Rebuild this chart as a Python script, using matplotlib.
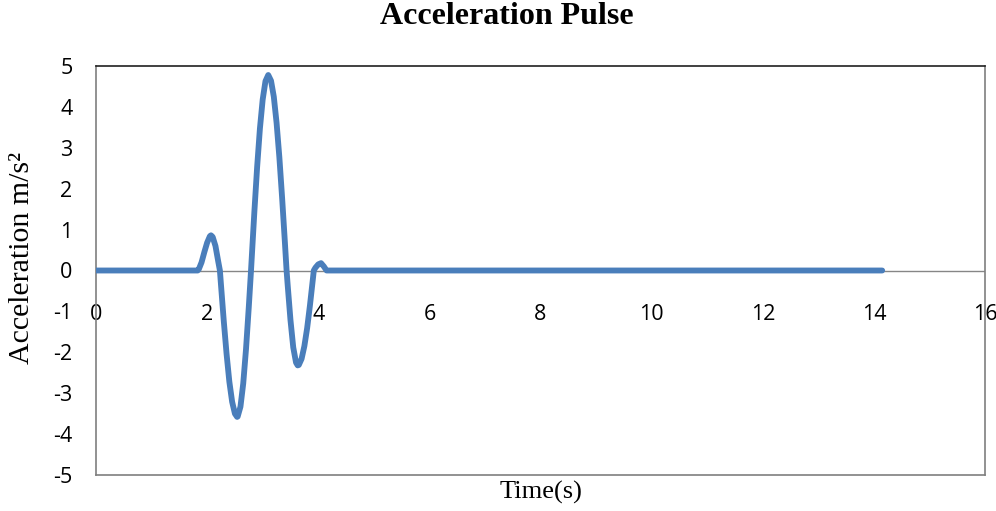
import matplotlib
matplotlib.use("Agg")
import matplotlib.pyplot as plt

# Acceleration record (s, m/s^2)
time_s = [0.00, 1.80, 1.83, 1.85, 1.90, 1.95, 2.00, 2.05, 2.07, 2.10, 2.15, 2.20,
          2.23, 2.25, 2.30, 2.35, 2.40, 2.45, 2.50, 2.54, 2.55, 2.60, 2.65, 2.70,
          2.75, 2.79, 2.80, 2.85, 2.90, 2.95, 3.00, 3.05, 3.10, 3.15, 3.20, 3.25,
          3.30, 3.35, 3.40, 3.43, 3.45, 3.50, 3.55, 3.60, 3.63, 3.65, 3.70, 3.75,
          3.80, 3.85, 3.90, 3.92, 3.95, 4.00, 4.05, 4.10, 4.15, 14.15]
accel = [0.00, 0.00, 0.00, 0.03, 0.20, 0.45, 0.68, 0.84, 0.86, 0.82, 0.60, 0.22,
         0.00, -0.36, -1.24, -2.04, -2.72, -3.21, -3.50, -3.58, -3.57, -3.33, -2.76, -1.92,
         -0.89, 0.00, 0.24, 1.43, 2.53, 3.47, 4.18, 4.63, 4.78, 4.64, 4.25, 3.61,
         2.77, 1.77, 0.68, 0.00, -0.36, -1.21, -1.88, -2.25, -2.32, -2.31, -2.16, -1.85,
         -1.41, -0.86, -0.25, 0.00, 0.07, 0.15, 0.18, 0.10, 0.00, 0.00]

x_ticks = [0, 2, 4, 6, 8, 10, 12, 14, 16]
y_ticks = [5, 4, 3, 2, 1, 0, -1, -2, -3, -4, -5]

serif = ["Liberation Serif", "DejaVu Serif"]
sans = ["Open Sans", "DejaVu Sans"]

fig = plt.figure(figsize=(9.96, 5.11), dpi=100)
ax = fig.add_axes([96 / 996, 1 - 475 / 511, (985 - 96) / 996, (475 - 66) / 511])

ax.axhline(0, color="#868686", lw=1.0, zorder=1)
ax.plot(time_s, accel, color="#4A7EBB", lw=4.2, solid_capstyle="round",
        solid_joinstyle="round", zorder=3)

ax.set_xlim(0, 16)
ax.set_ylim(-5, 5)
ax.set_yticks(y_ticks)
ax.set_yticklabels([str(v) for v in y_ticks], family=sans, fontsize=15.5)
ax.tick_params(axis="y", length=0, pad=17)
ax.set_xticks(x_ticks)
ax.tick_params(axis="x", length=0, labelbottom=False)

# category labels ride on the zero line
sec = ax.secondary_xaxis(0.5)
sec.set_alignment("bottom")
sec.set_xticks(x_ticks)
sec.set_xticklabels([str(v) for v in x_ticks], family=sans, fontsize=15.5)
sec.tick_params(length=0, pad=24)
for sp in sec.spines.values():
    sp.set_visible(False)

for name, sp in ax.spines.items():
    sp.set_color("#7F7F7F")
    sp.set_linewidth(1.2)
ax.spines["top"].set_color("#202020")

fig.text(507 / 996, 1 - 16 / 511, "Acceleration Pulse", family=serif,
         fontweight="bold", fontsize=23, ha="center", va="center")
ax.set_xlabel("Time(s)", family=serif, fontsize=19, labelpad=4)
ax.set_ylabel("Acceleration m/s²", family=serif, fontsize=21.5)
ax.yaxis.set_label_coords(-0.069, 0.53)

fig.savefig("out.png", dpi=100, facecolor="white")
